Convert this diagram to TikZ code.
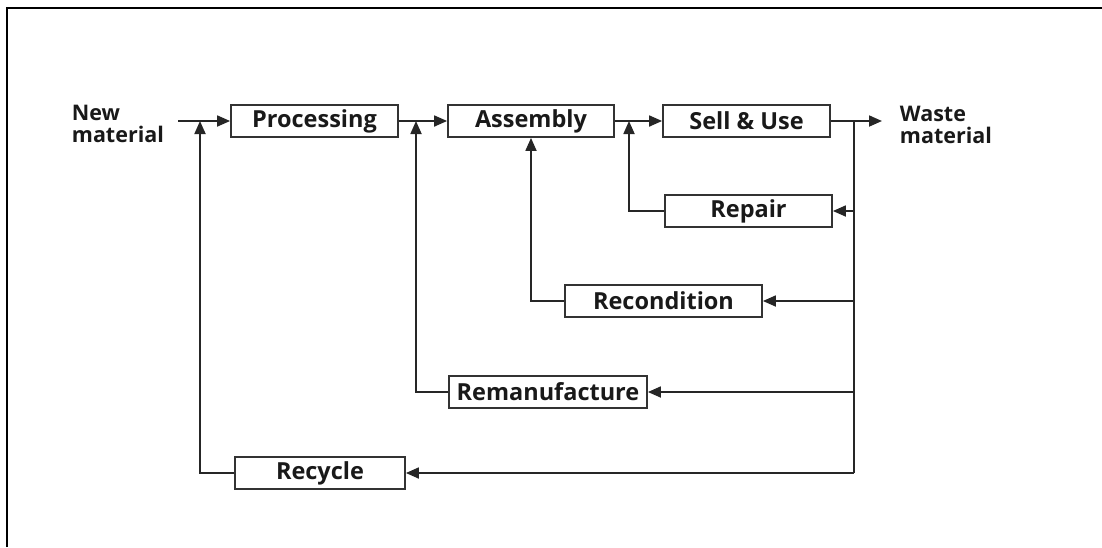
\documentclass[tikz,border=0pt]{standalone}
\usepackage{fontspec}
\setmainfont{Open Sans}
\usetikzlibrary{arrows.meta}
\begin{document}
\begin{tikzpicture}[x=1pt,y=-1pt,
  line width=1.8pt, draw=black!85,
  boxnode/.style={draw=black!80, line width=1.8pt, minimum height=32pt, inner sep=0pt,
     font=\fontsize{23.5}{24}\selectfont\bfseries, text=black!90},
  lbl/.style={align=left, anchor=west, inner sep=0pt,
     font=\fontsize{21.5}{22}\selectfont\bfseries, text=black!90},
  arr/.style={-{Triangle[length=13pt,width=11pt]}, line width=1.8pt, draw=black!85},
  ln/.style={line width=1.8pt, draw=black!85}]
\useasboundingbox (0,0) rectangle (1102,547);
\draw[line width=2.2pt, black] (7,547) -- (7,8) -- (1102,8);

% main row
\node[boxnode, minimum width=167pt] (proc) at (314.5,121) {Processing};
\node[boxnode, minimum width=166pt] (asm) at (531,121) {Assembly};
\node[boxnode, minimum width=167pt] (sell) at (746.5,121) {Sell \& Use};
\node[boxnode, minimum width=167pt] (repair) at (748.5,211) {Repair};
\node[boxnode, minimum width=197pt] (recond) at (663.5,301) {Recondition};
\node[boxnode, minimum width=198pt] (reman) at (548,392) {Remanufacture};
\node[boxnode, minimum width=170pt] (recycle) at (320,473) {Recycle};

\node[lbl] (newm) at (71,124) {New\\material};
\node[lbl] (waste) at (899,125) {Waste\\material};

\coordinate (start) at (178,121);
\coordinate (jrec) at (200,121);
\coordinate (jrem) at (416,121);
\coordinate (jrep) at (629,121);
\coordinate (jw) at (854,121);
\coordinate (wend) at (882,121);
\coordinate (jbot) at (854,473);

\draw[arr] (start) -- (proc.west);
\draw[arr] (proc.east) -- (asm.west);
\draw[arr] (asm.east) -- (sell.west);
\draw[arr] (sell.east) -- (wend);
\draw[ln] (jw) -- (jbot);

\draw[arr] (repair.east -| jw) -- (repair.east);
\draw[arr] (recond.east -| jw) -- (recond.east);
\draw[arr] (reman.east -| jw) -- (reman.east);
\draw[arr] (jbot) -- (recycle.east);

\draw[arr] (repair.west) -| (jrep);
\draw[arr] (recond.west) -| (asm.south);
\draw[arr] (reman.west) -| (jrem);
\draw[arr] (recycle.west) -| (jrec);
\end{tikzpicture}
\end{document}
